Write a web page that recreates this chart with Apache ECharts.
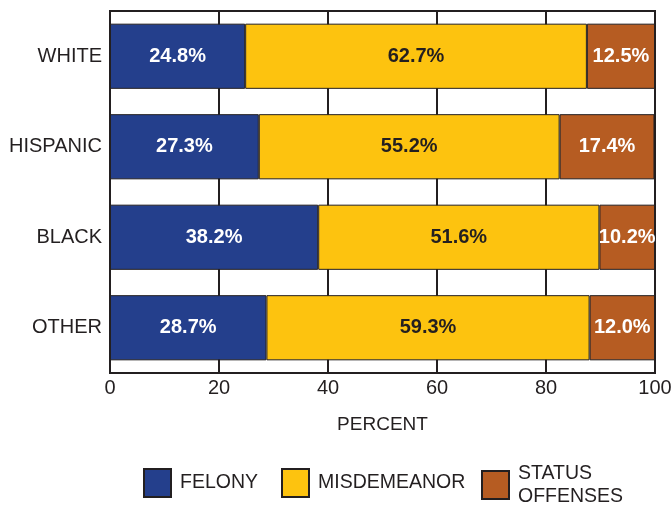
<!DOCTYPE html>
<html>
<head>
<meta charset="utf-8">
<script src="https://cdn.jsdelivr.net/npm/echarts@6/dist/echarts.min.js"></script>
<style>
  html, body { margin: 0; padding: 0; background: #fff; }
  #main { width: 671px; height: 508px; }
</style>
</head>
<body>
<div id="main"></div>
<script>
// groups, top to bottom
const groups = ['WHITE', 'HISPANIC', 'BLACK', 'OTHER']
const felony = [24.8, 27.3, 38.2, 28.7]
const misdemeanor = [62.7, 55.2, 51.6, 59.3]
const statusOffenses = [12.5, 17.4, 10.2, 12.0]
const xTicks = [0, 20, 40, 60, 80, 100]

const ink = '#231f20'
const font = 'Liberation Sans, Arial, sans-serif'

const chart = echarts.init(document.getElementById('main'))

function barSeries(name, data, color, labelColor) {
  return {
    name: name,
    type: 'bar',
    stack: 'total',
    barCategoryGap: '28%',
    data: data,
    itemStyle: { color: color, borderColor: ink, borderWidth: 1 },
    label: {
      show: true,
      position: 'inside',
      color: labelColor,
      fontFamily: font,
      fontWeight: 'bold',
      fontSize: 20,
      formatter: p => p.value.toFixed(1) + '%'
    }
  }
}

function legendAt(name, left, top) {
  return {
    data: [name],
    left: left,
    top: top,
    padding: 0,
    itemWidth: 27,
    itemHeight: 28,
    icon: 'rect',
    itemGap: 10,
    textStyle: {
      color: ink, fontFamily: font, fontSize: 19.5, lineHeight: 23,
      padding: [0, 0, 0, 4]
    },
    selectedMode: false
  }
}

var option = {
  animation: false,
  grid: {
    left: 110,
    right: 16,
    top: 11,
    bottom: 135,
    containLabel: false,
    outerBoundsMode: 'none',
    show: true,
    borderColor: ink,
    borderWidth: 2
  },
  legend: [
    legendAt('FELONY', 143, 468),
    legendAt('MISDEMEANOR', 281, 468),
    legendAt('STATUS\nOFFENSES', 481, 462)
  ],
  xAxis: {
    type: 'value',
    min: 0,
    max: 100,
    interval: 20,
    name: 'PERCENT',
    nameLocation: 'middle',
    nameGap: 42,
    nameTextStyle: { color: ink, fontFamily: font, fontSize: 19 },
    axisLine: { show: true, lineStyle: { color: ink, width: 2 } },
    axisTick: { show: false },
    splitLine: { show: true, lineStyle: { color: ink, width: 2 } },
    axisLabel: {
      color: ink,
      fontFamily: font,
      fontSize: 20,
      margin: 5,
      formatter: v => xTicks.includes(v) ? String(v) : ''
    }
  },
  yAxis: {
    type: 'category',
    inverse: true,
    data: groups,
    axisLine: { show: true, lineStyle: { color: ink, width: 2 } },
    axisTick: { show: false },
    axisLabel: { color: ink, fontFamily: font, fontSize: 20, margin: 8 }
  },
  series: [
    barSeries('FELONY', felony, '#243f8c', '#ffffff'),
    barSeries('MISDEMEANOR', misdemeanor, '#fdc30f', ink),
    barSeries('STATUS\nOFFENSES', statusOffenses, '#b65c22', '#ffffff')
  ]
}
option && chart.setOption(option)
</script>
</body>
</html>
